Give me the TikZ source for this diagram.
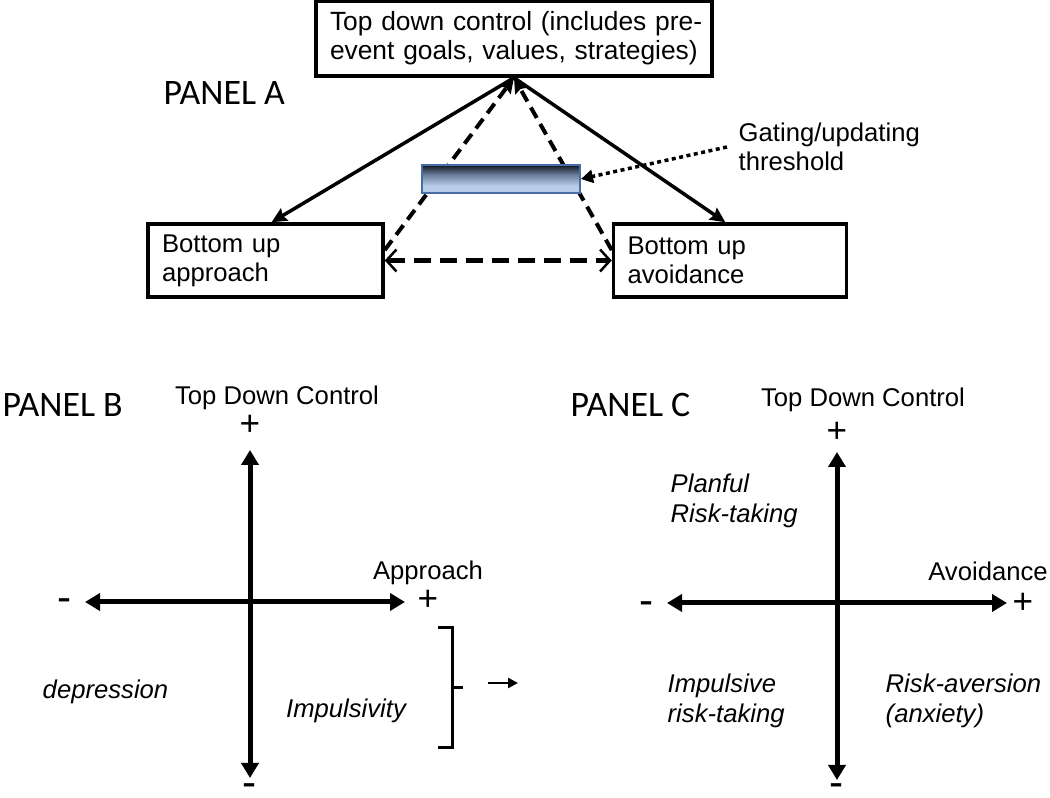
\documentclass[tikz,border=0pt]{standalone}
\usepackage{fontspec}
\setmainfont{Liberation Sans}
\newfontfamily\panelfont{Carlito}
\usetikzlibrary{arrows.meta,positioning}

\definecolor{gatedark}{RGB}{18,22,32}
\definecolor{gatemid}{RGB}{105,125,155}
\definecolor{gatelight}{RGB}{184,205,232}
\definecolor{gateline}{RGB}{70,110,165}
\pgfdeclareverticalshading{gateshade}{100bp}{color(0bp)=(gatelight); color(25bp)=(gatelight); color(38bp)=(gatelight); color(58bp)=(gatemid); color(75bp)=(gatedark); color(100bp)=(gatedark)}

\tikzset{
  txt/.style={font=\fontsize{7.3}{8.3}\selectfont, inner sep=0pt},
  itxt/.style={inner sep=0pt, font=\fontsize{7.3}{8.5}\selectfont\itshape},
  sign/.style={inner sep=0pt, font=\fontsize{10}{11}\selectfont},
  minus/.style={inner sep=0pt, font=\fontsize{12}{13}\selectfont},
  panel/.style={inner sep=0pt, anchor=west, font=\panelfont\fontsize{10.2}{12}\selectfont},
  box/.style={draw, line width=0.035cm, txt, align=left, inner ysep=0pt, minimum height=0.73cm},
  solidarr/.style={line width=0.035cm, -{Stealth[length=0.15cm,width=0.14cm,inset=0.02cm]}},
  dasharr/.style={line width=0.04cm, dash pattern=on 0.12cm off 0.07cm, -{Stealth[length=0.15cm,width=0.14cm,inset=0.02cm]}},
  hdash/.style={line width=0.05cm, dash pattern=on 0.17cm off 0.09cm, {Straight Barb[length=0.1cm,width=0.22cm,line width=0.025cm]}-{Straight Barb[length=0.1cm,width=0.22cm,line width=0.025cm]}},
  dotarr/.style={line width=0.035cm, dash pattern=on 0.04cm off 0.035cm, -{Triangle[length=0.12cm,width=0.13cm]}},
  axis/.style={line width=0.05cm, {Triangle[length=0.15cm,width=0.17cm]}-{Triangle[length=0.15cm,width=0.17cm]}},
}

\begin{document}
\begin{tikzpicture}
  \useasboundingbox (0,0) rectangle (10.5,-7.98);

  % panel A
  \node (pA) [panel] at (1.63,-0.93) {PANEL A};
  \node (ctrl) [box, font=\fontsize{7.5}{8.3}\selectfont, text width=3.80cm, inner xsep=0.08cm, minimum height=0.75cm] at (5.14,-0.385) {\hspace{0.06cm}Top down control (includes pre-\\\hspace{0.06cm}event goals, values, strategies)};
  \node (appr) [box, text width=2.07cm, inner xsep=0.14cm] at (2.655,-2.605) {Bottom up\\approach};
  \node (avoid) [box, text width=2.05cm, inner xsep=0.14cm, right=2.27cm of appr] {Bottom up\\avoidance};
  \draw [solidarr] (ctrl.south) -- (appr.81);
  \draw [solidarr] (ctrl.south) -- (avoid.97);
  \draw [dasharr] (appr.5) -- (ctrl.south);
  \draw [dasharr] (avoid.175) -- (ctrl.south);
  \draw [hdash] (appr.east) -- (avoid.west);
  \node (gate) [draw=gateline, line width=0.02cm, shading=gateshade, minimum width=1.58cm, minimum height=0.28cm, inner sep=0pt] at (5.01,-1.79) {};
  \node (gatetxt) [txt, align=left, anchor=west, inner xsep=0.11cm] at (7.27,-1.47) {Gating/updating\\threshold};
  \draw [dotarr] (gatetxt.west) -- (gate.east);

  % panel B
  \node (pB) [panel] at (0.02,-4.05) {PANEL B};
  \coordinate (bTop) at (2.50,-4.50);
  \coordinate (bBot) at (2.50,-7.78);
  \coordinate (bLeft) at (0.85,-6.02);
  \coordinate (bRight) at (4.05,-6.02);
  \draw [axis] (bBot) -- (bTop);
  \draw [axis] (bLeft) -- (bRight);
  \node (bTdc) [txt, anchor=base] at (2.77,-4.05) {Top Down Control};
  \node (bApp) [txt, anchor=base] at (4.28,-5.80) {Approach};
  \node [sign] at (2.50,-4.25) {+};
  \node [sign] at (4.28,-6.00) {+};
  \node [minus] at (0.65,-6.05) {-};
  \node [minus] at (2.50,-7.90) {-};
  \node (dep) [itxt, anchor=base] at (1.055,-6.99) {depression};
  \node (imp) [itxt, anchor=base] at (3.46,-7.18) {Impulsivity};
  \draw [line width=0.03cm] (4.38,-6.28) -- (4.52,-6.28) -- (4.52,-7.48) -- (4.38,-7.48);
  \draw [line width=0.03cm] (4.52,-6.88) -- (4.63,-6.88);
  \draw [line width=0.025cm, -{Triangle[length=0.1cm,width=0.1cm]}] (4.88,-6.83) -- (5.18,-6.83);

  % panel C
  \node (pC) [panel] at (5.70,-4.05) {PANEL C};
  \coordinate (cTop) at (8.37,-4.52);
  \coordinate (cBot) at (8.37,-7.80);
  \coordinate (cLeft) at (6.67,-6.03);
  \coordinate (cRight) at (10.07,-6.03);
  \draw [axis] (cBot) -- (cTop);
  \draw [axis] (cLeft) -- (cRight);
  \node (cTdc) [txt, anchor=base] at (8.63,-4.07) {Top Down Control};
  \node (cAvo) [txt, anchor=base] at (9.88,-5.81) {Avoidance};
  \node [sign] at (8.37,-4.32) {+};
  \node [sign] at (10.23,-6.03) {+};
  \node [minus] at (6.47,-6.08) {-};
  \node [minus] at (8.37,-7.90) {-};
  \node (plan) [itxt, align=left, anchor=west] at (6.70,-5.01) {Planful\\Risk-taking};
  \node (impr) [itxt, align=left, anchor=west] at (6.67,-7.01) {Impulsive\\risk-taking};
  \node (aver) [itxt, align=left, anchor=west] at (8.85,-7.01) {Risk-aversion\\(anxiety)};
\end{tikzpicture}
\end{document}
